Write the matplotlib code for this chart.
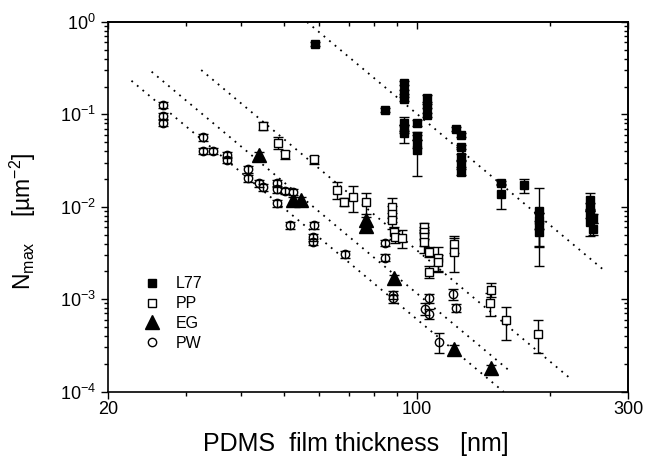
import matplotlib
matplotlib.use("Agg")
import matplotlib.pyplot as plt
import numpy as np
from matplotlib.ticker import FixedLocator, FixedFormatter, NullFormatter

plt.rcParams["font.family"] = "Liberation Sans"
plt.rcParams["mathtext.fontset"] = "custom"
plt.rcParams["mathtext.rm"] = "Liberation Sans"
plt.rcParams["mathtext.it"] = "Liberation Sans:italic"

# --- data (x: film thickness nm, y: N_max um^-2, err: relative) ---
l77_x = [58.9, 84.7, 93.5, 93.5, 93.5, 93.5, 93.5, 93.5, 100.1, 100.1, 100.1, 100.1,
         105.4, 105.4, 105.4, 122.4, 125.6, 125.6, 125.6, 125.6, 125.6, 154.5, 154.5,
         174.1, 188.9, 188.9, 188.9, 188.9, 246.3, 246.3, 246.3, 246.3, 250.6, 250.6]
l77_y = [0.582, 0.111, 0.22, 0.176, 0.146, 0.080, 0.0705, 0.0623, 0.081, 0.0582, 0.0485, 0.041,
         0.149, 0.123, 0.098, 0.0688, 0.0597, 0.0446, 0.0347, 0.029, 0.0239, 0.0179, 0.0136,
         0.0171, 0.00908, 0.00716, 0.00617, 0.00535, 0.0118, 0.0099, 0.0083, 0.00686, 0.0075, 0.0058]
l77_err = [0.05, 0.05, 0.05, 0.05, 0.05, 0.18, 0.1, 0.22, 0.08, 0.1, 0.1, 0.47,
           0.09, 0.05, 0.05, 0.05, 0.05, 0.05, 0.08, 0.08, 0.08, 0.05, 0.3,
           0.17, 0.75, 0.2, 0.4, 0.3, 0.2, 0.1, 0.1, 0.3, 0.1, 0.15]

pp_x = [44.8, 48.6, 50.3, 58.6, 65.8, 68.5, 71.5, 76.7, 88.0, 88.0, 88.0, 88.7, 89.2, 92.3,
        103.9, 103.9, 103.9, 103.9, 106.4, 106.4, 111.7, 111.7, 121.3, 121.3, 147.1, 146.4,
        158.8, 188.2]
pp_y = [0.0752, 0.0492, 0.0369, 0.0326, 0.0153, 0.0112, 0.0128, 0.0112, 0.0100, 0.00845,
        0.00716, 0.0053, 0.00472, 0.00454, 0.0060, 0.0053, 0.00469, 0.00417, 0.00324, 0.00197,
        0.00282, 0.0025, 0.0040, 0.00324, 0.00127, 9.1e-4, 5.9e-4, 4.24e-4]
pp_err = [0.1, 0.15, 0.1, 0.1, 0.2, 0.1, 0.32, 0.25, 0.25, 0.2, 0.2, 0.15, 0.15, 0.22,
          0.12, 0.15, 0.2, 0.25, 0.12, 0.15, 0.3, 0.2, 0.22, 0.4, 0.18, 0.28, 0.39, 0.39]

eg_x = [43.8, 52.4, 54.7, 76.7, 76.7, 88.9, 121.0, 147.0]
eg_y = [0.0362, 0.0118, 0.0118, 0.0071, 0.0062, 0.0017, 2.9e-4, 1.78e-4]
eg_err = [0.08, 0.08, 0.08, 0.08, 0.08, 0.08, 0.1, 0.1]

pw_x = [26.7, 26.7, 26.7, 32.8, 32.8, 34.6, 37.2, 37.2, 41.5, 41.5, 43.8, 44.8, 48.3, 48.3,
        48.3, 50.3, 52.5, 51.6, 58.6, 58.3, 58.3, 68.8, 84.7, 84.7, 88.1, 88.1, 104.3, 106.4,
        106.4, 112.0, 120.9, 122.6]
pw_y = [0.126, 0.096, 0.081, 0.0564, 0.0403, 0.0403, 0.0362, 0.032, 0.0254, 0.0203, 0.0179,
        0.0162, 0.0179, 0.0154, 0.0109, 0.0149, 0.0145, 0.0063, 0.0063, 0.00465, 0.00417,
        0.00306, 0.00406, 0.00282, 0.00112, 0.00102, 7.9e-4, 0.00102, 6.9e-4, 3.44e-4,
        1.13e-3, 8.1e-4]
pw_err = [0.08] * 24 + [0.1, 0.1, 0.15, 0.12, 0.12, 0.25, 0.14, 0.1]

# power-law guide lines N = A * h^-4, drawn over [h_start, h_end]
fit_amp = [1.01e7, 3.37e5, 1.15e5, 6.03e4]
fit_start = [56.4, 32.5, 25.1, 22.6]
fit_end = [267.0, 223.0, 163.0, 157.0]
fit_exponent = -4

series = [
    ("L77", l77_x, l77_y, l77_err, dict(marker="s", ms=6.3, mfc="black", mec="black")),
    ("PP", pp_x, pp_y, pp_err, dict(marker="s", ms=6, mfc="white", mec="black", mew=1.0)),
    ("EG", eg_x, eg_y, eg_err, dict(marker="^", ms=9.5, mfc="black", mec="black")),
    ("PW", pw_x, pw_y, pw_err, dict(marker="o", ms=6, mfc="white", mec="black", mew=1.0)),
]

fig = plt.figure(figsize=(6.47, 4.68), dpi=100)
ax = fig.add_axes([108 / 647, 1 - 391.5 / 468, 520 / 647, 369.5 / 468])

for amp, h0, h1 in zip(fit_amp, fit_start, fit_end):
    h = np.geomspace(h0, h1, 50)
    ax.plot(h, amp * h ** fit_exponent, color="black", lw=1.3, ls=(0, (1, 3)), zorder=1)

for name, xs, ys, errs, style in series:
    xs = np.array(xs)
    ys = np.array(ys)
    yerr = ys * np.array(errs)
    ez = 4 if name == "PW" else 2
    ax.errorbar(xs, ys, yerr=yerr, fmt="none", ecolor="black", elinewidth=1.0,
                capsize=3.5, capthick=1.0, zorder=ez)
    ax.plot(xs, ys, ls="none", label=name, zorder=3, **style)

ax.set_xscale("log")
ax.set_yscale("log")
ax.set_xlim(20, 300)
ax.set_ylim(1e-4, 1)

x_major = [20, 100, 300]
x_minor = [30, 40, 50, 60, 70, 80, 90, 200]
y_major = [1e-4, 1e-3, 1e-2, 1e-1, 1]
y_labels = [r"$10^{-4}$", r"$10^{-3}$", r"$10^{-2}$", r"$10^{-1}$", r"$10^{0}$"]
y_minor = [m * 10.0 ** e for e in range(-4, 0) for m in range(2, 10)]

ax.xaxis.set_major_locator(FixedLocator(x_major))
ax.xaxis.set_major_formatter(FixedFormatter([str(v) for v in x_major]))
ax.xaxis.set_minor_locator(FixedLocator(x_minor))
ax.xaxis.set_minor_formatter(NullFormatter())
ax.yaxis.set_major_locator(FixedLocator(y_major))
ax.yaxis.set_major_formatter(FixedFormatter(y_labels))
ax.yaxis.set_minor_locator(FixedLocator(y_minor))
ax.yaxis.set_minor_formatter(NullFormatter())
ax.tick_params(which="both", direction="out", labelsize=13, width=1.0)
ax.tick_params(which="major", length=5)
ax.tick_params(which="minor", length=3)
ax.tick_params(axis="x", pad=2)

# top and right ticks point inward
top = ax.secondary_xaxis("top")
top.xaxis.set_major_locator(FixedLocator(x_major))
top.xaxis.set_minor_locator(FixedLocator(x_minor))
top.xaxis.set_minor_formatter(NullFormatter())
top.tick_params(which="both", direction="in", labeltop=False, width=1.0)
top.tick_params(which="major", length=5)
top.tick_params(which="minor", length=3)
right = ax.secondary_yaxis("right")
right.yaxis.set_major_locator(FixedLocator(y_major))
right.yaxis.set_minor_locator(FixedLocator(y_minor))
right.yaxis.set_minor_formatter(NullFormatter())
right.tick_params(which="both", direction="in", labelright=False, width=1.0)
right.tick_params(which="major", length=5)
right.tick_params(which="minor", length=3)

for a in (ax, top, right):
    for sp in a.spines.values():
        sp.set_linewidth(1.2)

ax.set_xlabel("PDMS  film thickness   [nm]", fontsize=18)
ax.xaxis.set_label_coords(0.477, -0.11)
ax.set_ylabel(r"N$_{\rm max}$    [µm$^{-2}$]", fontsize=16.5)
ax.yaxis.set_label_coords(-0.135, 0.46)

ax.legend(loc="center left", bbox_to_anchor=(0.069, 0.211), frameon=False, fontsize=11.5,
          borderpad=0, borderaxespad=0, handlelength=1.0, handletextpad=1.0,
          labelspacing=0.3, numpoints=1)

fig.savefig("out.png", dpi=100)
